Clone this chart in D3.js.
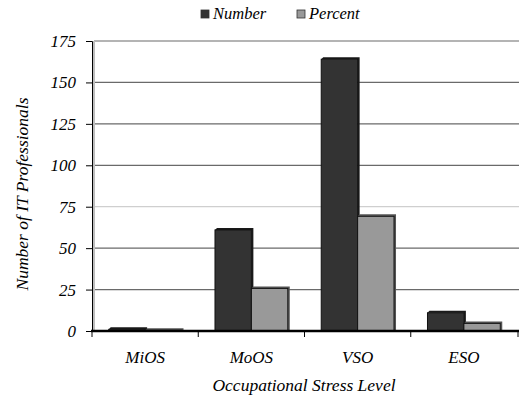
<!DOCTYPE html>
<html><head><meta charset="utf-8">
<script src="https://cdn.jsdelivr.net/npm/d3@7"></script>
<style>body{margin:0;background:#fff}svg{display:block}</style>
</head><body><svg id="c" width="519" height="400"></svg>
<script>
const categories = ["MiOS", "MoOS", "VSO", "ESO"];
const seriesNames = ["Number", "Percent"];
const numberValues = [1, 61, 164, 11];
const percentValues = [0.4, 25.7, 69.2, 4.6];
const yTicks = [0, 25, 50, 75, 100, 125, 150, 175];
const colors = ["#333333", "#999999"];
const FONT = "Liberation Serif";

const svg = d3.select("#c");
const m = {l: 92, r: 517, t: 41, b: 331};
const x = d3.scaleBand().domain(categories).range([m.l, m.r]);
const xs = d3.scaleBand().domain(seriesNames).range([0, x.bandwidth()]).paddingOuter(0.46).paddingInner(0);
const y = d3.scaleLinear().domain([0, 175]).range([m.b, m.t]);

function styleText(sel, size) {
  sel.attr("font-family", FONT).attr("font-style", "italic").attr("font-size", size).attr("fill", "#000");
}

// gridlines
svg.append("g").selectAll("line").data(yTicks.filter(d => d > 0 && d < 175)).join("line")
  .attr("x1", m.l + 2).attr("x2", 519).attr("y1", d => y(d)).attr("y2", d => y(d))
  .attr("stroke", d => d === 75 ? "#cfcfcf" : "#6a6a6a").attr("stroke-width", 1.2);
svg.append("line").attr("x1", m.l + 2).attr("x2", 519).attr("y1", y(175)).attr("y2", y(175)).attr("stroke", "#6a6a6a").attr("stroke-width", 1.2);
svg.append("rect").attr("x", m.l + 1).attr("y", y(175)).attr("width", 2).attr("height", m.b - y(175)).attr("fill", "#bdbdbd");

// y axis
const yAxis = svg.append("g").attr("transform", `translate(${m.l},0)`)
  .call(d3.axisLeft(y).tickValues(yTicks).tickSize(6).tickPadding(10));
yAxis.attr("font-family", FONT).attr("font-size", 17);
yAxis.select(".domain").attr("stroke", "#000").attr("stroke-width", 1);
yAxis.selectAll(".tick line").attr("stroke", "#000");
styleText(yAxis.selectAll("text"), 17);

// bars
const data = [];
categories.forEach((c, i) => {
  data.push({c, s: "Number", v: numberValues[i], col: colors[0]});
  data.push({c, s: "Percent", v: percentValues[i], col: colors[1]});
});
const bars = svg.append("g");
const off = 2;
data.forEach(d => {
  const bx = x(d.c) + xs(d.s), bw = xs.bandwidth(), by = y(d.v), bh = m.b - y(d.v);
  bars.append("path")
    .attr("d", `M${bx},${by} L${bx + off},${by - off} L${bx + bw + off},${by - off} L${bx + bw + off},${m.b} L${bx + bw},${m.b} L${bx + bw},${by} Z`)
    .attr("fill", d.s === "Number" ? "#1a1a1a" : "#555");
  bars.append("rect").attr("x", bx).attr("y", by).attr("width", bw).attr("height", bh)
    .attr("fill", d.col).attr("stroke", "#111").attr("stroke-width", 1);
});

// x axis
const xAxis = svg.append("g").attr("transform", `translate(0,${m.b})`)
  .call(d3.axisBottom(x).tickSize(0).tickPadding(20));
xAxis.attr("font-family", FONT).attr("font-size", 17);
xAxis.select(".domain").attr("stroke", "#000").attr("stroke-width", 2.5).attr("d", `M${m.l - 1},0H519`);
styleText(xAxis.selectAll("text"), 17);
svg.append("g").selectAll("line").data(categories.concat(["end"])).join("line")
  .attr("x1", (d, i) => i < categories.length ? x(d) : m.r + 1)
  .attr("x2", (d, i) => i < categories.length ? x(d) : m.r + 1)
  .attr("y1", m.b).attr("y2", m.b + 6).attr("stroke", "#000");

// titles
styleText(svg.append("text").attr("x", 304).attr("y", 391).attr("text-anchor", "middle").text("Occupational Stress Level"), 17.5);
styleText(svg.append("text").attr("transform", `translate(28,194) rotate(-90)`).attr("text-anchor", "middle").text("Number of IT Professionals"), 17.5);

// legend
const legX = [201, 297];
seriesNames.forEach((s, i) => {
  svg.append("rect").attr("x", legX[i]).attr("y", 10).attr("width", 8).attr("height", 8).attr("fill", colors[i]).attr("stroke", "#333").attr("stroke-width", 0.8);
  styleText(svg.append("text").attr("x", legX[i] + 12).attr("y", 19).text(s), 16.5);
});
</script></body></html>
